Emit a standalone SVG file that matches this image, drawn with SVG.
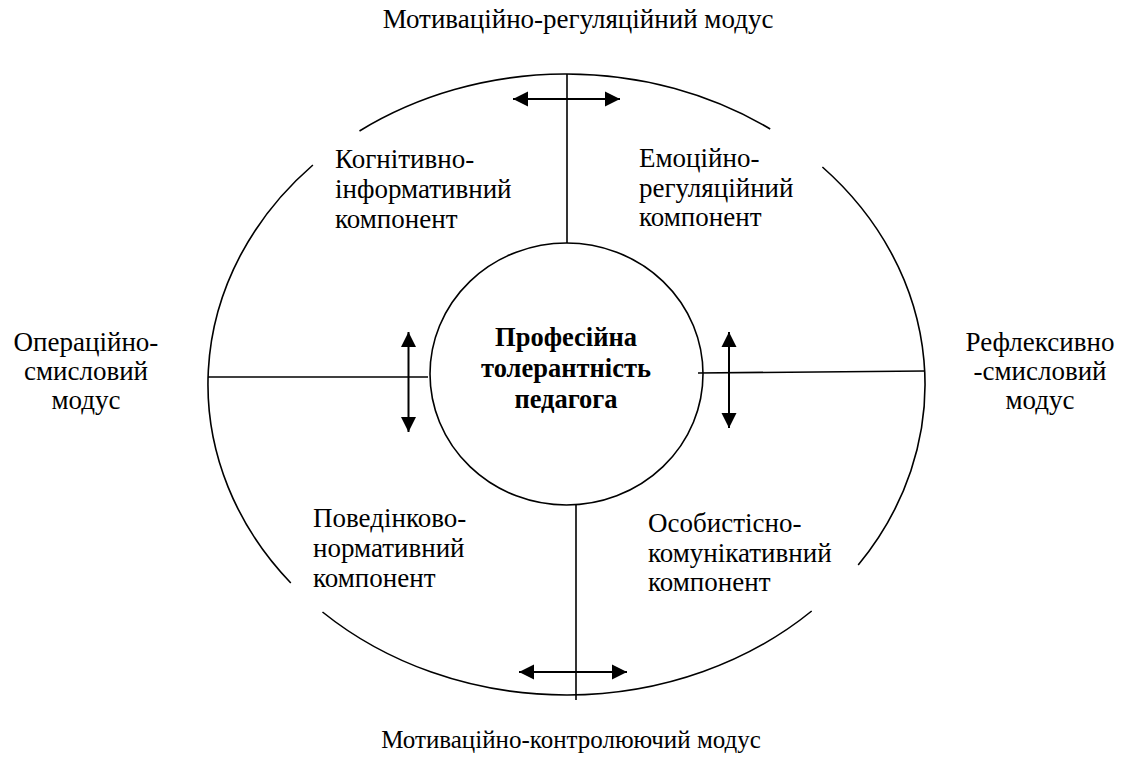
<svg xmlns="http://www.w3.org/2000/svg" width="1121" height="760" viewBox="0 0 1121 760">
<style>
text{font-family:'Liberation Serif','Times New Roman',Times,serif;font-size:27px;fill:#000}
.m{text-anchor:middle}
.s{font-size:25px}
.b{font-weight:bold;text-anchor:middle;font-size:26.5px}
.ln{stroke:#000;stroke-width:1.6;fill:none}
.ar{stroke:#000;stroke-width:2;fill:none}
</style>
<defs>
<marker id="ah" markerUnits="userSpaceOnUse" markerWidth="16" markerHeight="16" viewBox="0 0 16 16" refX="15" refY="8" orient="auto-start-reverse">
<path d="M0,0.5 L15,8 L0,15.5 z" fill="#000"/>
</marker>
</defs>
<g id="outer">
<path class="ln" d="M359.5,131 A358.5,310.5 0 0 1 770.2,129"/>
<path class="ln" d="M822.4,167 A358.5,310.5 0 0 1 858.2,565"/>
<path class="ln" d="M811.7,611 A358.5,310.5 0 0 1 322.5,612"/>
<path class="ln" d="M290.8,583 A358.5,310.5 0 0 1 312.9,165"/>
</g>
<g id="center">
<ellipse class="ln" cx="566.5" cy="374" rx="136.5" ry="131"/>
<text class="b"><tspan x="566" y="346">Професійна</tspan><tspan x="566" y="377">толерантність</tspan><tspan x="566" y="408">педагога</tspan></text>
</g>
<g id="connectors">
<line class="ln" x1="567" y1="74" x2="567" y2="243"/>
<line class="ln" x1="576" y1="505" x2="576" y2="700"/>
<line class="ln" x1="208" y1="377" x2="428" y2="377"/>
<line class="ln" x1="698" y1="373" x2="925" y2="371"/>
<line class="ar" x1="513" y1="99" x2="620" y2="99" marker-start="url(#ah)" marker-end="url(#ah)"/>
<line class="ar" x1="519" y1="672" x2="627" y2="672" marker-start="url(#ah)" marker-end="url(#ah)"/>
<line class="ar" x1="408.5" y1="332" x2="408.5" y2="432" marker-start="url(#ah)" marker-end="url(#ah)"/>
<line class="ar" x1="729" y1="332" x2="729" y2="428" marker-start="url(#ah)" marker-end="url(#ah)"/>
</g>
<g id="mode-top"><text class="m" x="578" y="28">Мотиваційно-регуляційний модус</text></g>
<g id="mode-bottom"><text class="m s" x="571" y="748">Мотиваційно-контролюючий модус</text></g>
<g id="mode-left"><text class="m"><tspan x="86" y="351">Операційно-</tspan><tspan x="86" y="380">смисловий</tspan><tspan x="86" y="409">модус</tspan></text></g>
<g id="mode-right"><text class="m"><tspan x="1040" y="351">Рефлексивно</tspan><tspan x="1040" y="380">-смисловий</tspan><tspan x="1040" y="409">модус</tspan></text></g>
<g id="comp-cognitive"><text><tspan x="335" y="168">Когнітивно-</tspan><tspan x="335" y="198">інформативний</tspan><tspan x="335" y="228">компонент</tspan></text></g>
<g id="comp-emotional"><text><tspan x="639" y="167">Емоційно-</tspan><tspan x="639" y="197">регуляційний</tspan><tspan x="639" y="226">компонент</tspan></text></g>
<g id="comp-behavioral"><text><tspan x="313" y="527">Поведінково-</tspan><tspan x="313" y="557">нормативний</tspan><tspan x="313" y="587">компонент</tspan></text></g>
<g id="comp-personal"><text><tspan x="648" y="532">Особистісно-</tspan><tspan x="648" y="562">комунікативний</tspan><tspan x="648" y="591">компонент</tspan></text></g>
</svg>
